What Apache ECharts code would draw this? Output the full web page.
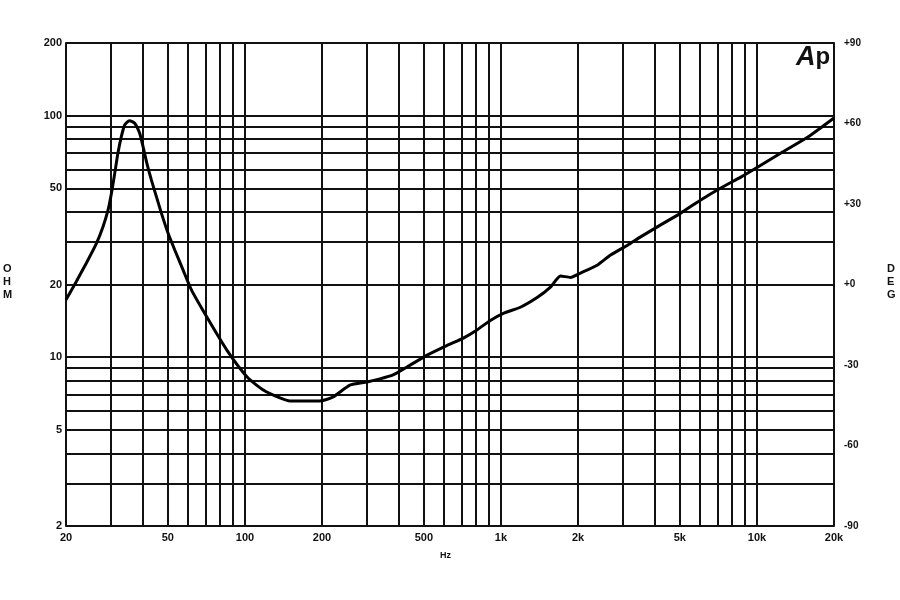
<!DOCTYPE html>
<html>
<head>
<meta charset="utf-8">
<script src="https://cdn.jsdelivr.net/npm/echarts@6/dist/echarts.min.js"></script>
<style>html,body{margin:0;padding:0;background:#fff}#c{width:900px;height:600px}</style>
</head>
<body>
<div id="c"></div>
<script>
// Impedance curve (Hz, ohm)
var freqHz = [20, 21.9, 24.0, 26.3, 27.9, 29.2, 30.1, 31.0, 31.9, 32.9, 33.9, 35.4, 37.1, 38.8, 40.0, 41.4, 43.1, 45.1, 47.2, 50.1, 53.2, 57.3, 61.8, 70.9, 85, 102, 118, 137, 150, 196, 221, 257, 300, 337, 379, 430, 515, 617, 713, 809, 909, 1022, 1191, 1389, 1561, 1708, 1869, 2045, 2385, 2682, 3124, 3512, 4206, 5037, 6032, 7224, 8651, 10085, 12406, 15820, 20000];
var ohms = [17.3, 20.5, 24.5, 29.6, 34.7, 40.7, 47.7, 57.7, 69.9, 81.9, 91.5, 95.4, 93.0, 84.5, 74.4, 63.5, 54.2, 46.2, 39.4, 32.6, 27.8, 23.0, 19.0, 14.7, 10.7, 8.28, 7.31, 6.78, 6.59, 6.59, 6.84, 7.67, 7.90, 8.13, 8.44, 9.11, 10.2, 11.2, 12.0, 13.0, 14.2, 15.2, 16.1, 17.7, 19.5, 21.7, 21.4, 22.3, 24.1, 26.5, 29.1, 31.5, 35.3, 39.5, 44.8, 50.2, 55.7, 61.3, 70.1, 81.6, 97.8];

// Grid lines and tick labels
var xGridHz = [20, 30, 40, 50, 60, 70, 80, 90, 100, 200, 300, 400, 500, 600, 700, 800, 900, 1000, 2000, 3000, 4000, 5000, 6000, 7000, 8000, 9000, 10000, 20000];
var xLabelHz = [20, 50, 100, 200, 500, 1000, 2000, 5000, 10000, 20000];
var yGridOhm = [2, 3, 4, 5, 6, 7, 8, 9, 10, 20, 30, 40, 50, 60, 70, 80, 90, 100, 200];
var yLabelOhm = [2, 5, 10, 20, 50, 100, 200];
var degTicks = [-90, -60, -30, 0, 30, 60, 90];

var lblFont = {fontFamily: 'Liberation Sans', fontWeight: 'bold', color: '#111'};
var chart = echarts.init(document.getElementById('c'));
chart.setOption({
  animation: false,
  backgroundColor: '#fff',
  grid: {left: 66, right: 66, top: 43, bottom: 74, containLabel: false},
  xAxis: {
    type: 'log', logBase: 10, min: 20, max: 20000,
    axisLine: {show: true, lineStyle: {color: '#111', width: 2}},
    axisTick: {show: false, customValues: xGridHz},
    splitLine: {show: true, showMinLine: true, showMaxLine: true, lineStyle: {color: '#111', width: 2}},
    axisLabel: Object.assign({customValues: xLabelHz, fontSize: 11, margin: 6,
      formatter: function (v) { return v >= 1000 ? (v / 1000) + 'k' : String(v); }}, lblFont)
  },
  yAxis: [{
    type: 'log', logBase: 10, min: 2, max: 200,
    axisLine: {show: true, lineStyle: {color: '#111', width: 2}},
    axisTick: {show: false, customValues: yGridOhm},
    splitLine: {show: true, showMinLine: true, showMaxLine: true, lineStyle: {color: '#111', width: 2}},
    axisLabel: Object.assign({customValues: yLabelOhm, fontSize: 11, margin: 4}, lblFont)
  }, {
    type: 'value', position: 'right', min: -90, max: 90, interval: 30,
    axisLine: {show: true, lineStyle: {color: '#111', width: 2}},
    axisTick: {show: false}, splitLine: {show: false},
    axisLabel: Object.assign({customValues: degTicks, fontSize: 10, margin: 10,
      formatter: function (v) { return (v >= 0 ? '+' : '') + v; }}, lblFont)
  }],
  graphic: [
    {type: 'text', left: 3, top: 262, style: {text: 'O\nH\nM', font: 'bold 11px Liberation Sans', fill: '#111', lineHeight: 13, align: 'center'}},
    {type: 'text', left: 887, top: 262, style: {text: 'D\nE\nG', font: 'bold 11px Liberation Sans', fill: '#111', lineHeight: 13, align: 'center'}},
    {type: 'text', left: 440, top: 551, style: {text: 'Hz', font: 'bold 9px Liberation Sans', fill: '#111'}},
    {type: 'text', left: 796, top: 44, style: {text: '{a|A}{p|p}', rich: {a: {font: 'italic bold 27px Liberation Sans', fill: '#111'}, p: {font: 'bold 24px Liberation Sans', fill: '#111'}}}}
  ],
  series: [{
    type: 'line', xAxisIndex: 0, yAxisIndex: 0, smooth: 0.2, showSymbol: false,
    lineStyle: {color: '#000', width: 3},
    data: freqHz.map(function (f, i) { return [f, ohms[i]]; })
  }]
});
</script>
</body>
</html>
